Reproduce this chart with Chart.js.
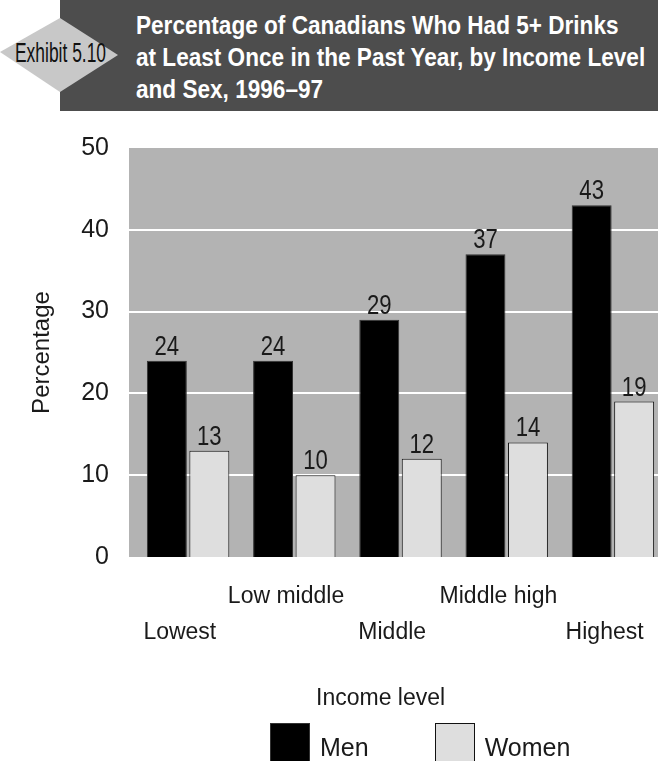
<!DOCTYPE html>
<html>
<head>
<meta charset="utf-8">
<title>Exhibit 5.10</title>
<script src="https://cdn.jsdelivr.net/npm/chart.js@4.4.1/dist/chart.umd.min.js"></script>
<style>
  html, body { margin: 0; padding: 0; overflow: hidden; background: #fff; }
  #page { position: relative; width: 658px; height: 761px; overflow: hidden; font-family: "Liberation Sans", Arial, sans-serif; }
  #band { position: absolute; left: 60px; top: 0; width: 598px; height: 111px; background: #4d4d4d; }
  #diamond { position: absolute; left: 0; top: 0; }
  #exhibit { position: absolute; left: 15px; top: 40px; font-size: 27px; line-height: 27px; color: #111; white-space: nowrap; transform-origin: 0 0; }
  #title { position: absolute; left: 136px; top: 9px; font-weight: bold; font-size: 26px; line-height: 32px; color: #fff; white-space: nowrap; transform-origin: 0 0; }
  #chartBox { position: absolute; left: 0; top: 0; width: 668px; height: 761px; }
  #xTitle { position: absolute; left: 316px; top: 684px; font-size: 23px; line-height: 26px; color: #1a1a1a; white-space: nowrap; }
  #legend { position: absolute; left: 270px; top: 723px; display: flex; gap: 66px; }
  #legend .item { display: flex; align-items: flex-start; }
  #legend .box { width: 40px; height: 50px; box-sizing: border-box; margin-right: 10px; }
  #legend .txt { font-size: 25px; line-height: 25px; margin-top: 12px; color: #1a1a1a; }
</style>
</head>
<body>
<div id="page">
  <div id="band"></div>
  <svg id="diamond" width="120" height="111"><polygon points="0,52 60,18 118,55 60,92" fill="#c8c8c8"/></svg>
  <div id="exhibit">Exhibit 5.10</div>
  <div id="title">Percentage of Canadians Who Had 5+ Drinks<br>at Least Once in the Past Year, by Income Level<br>and Sex, 1996–97</div>
  <div id="chartBox"><canvas id="drinksChart"></canvas></div>
  <div id="xTitle">Income level</div>
  <div id="legend"></div>
</div>
<script>
// income groups and the share of each sex with 5+ drinks on one occasion
const incomeLevels = ['Lowest', 'Low middle', 'Middle', 'Middle high', 'Highest'];
const labelRow = [1, 0, 1, 0, 1];   // staggered: 0 = upper line, 1 = lower line
const menPct = [24, 24, 29, 37, 43];
const womenPct = [13, 10, 12, 14, 19];
const yMax = 50;
const yStep = 10;

// squeeze a heading horizontally so it fits the given width (narrow type look)
function squeeze(el, width) {
  el.style.transform = 'scaleX(' + (width / el.offsetWidth) + ')';
}
squeeze(document.getElementById('title'), 509);
squeeze(document.getElementById('exhibit'), 91);

// grey panel and white rules, painted a little wider than the bar area
const panelBg = {
  id: 'panelBg',
  beforeDraw(chart) {
    const {ctx, chartArea, scales} = chart;
    const left = chartArea.left - 6;
    ctx.save();
    ctx.fillStyle = '#b3b3b3';
    ctx.fillRect(left, chartArea.top, chart.width - left, chartArea.bottom - chartArea.top);
    ctx.strokeStyle = '#ffffff';
    ctx.lineWidth = 2;
    scales.y.ticks.forEach(t => {
      if (t.value <= 0 || t.value >= yMax) return;
      const y = Math.round(scales.y.getPixelForValue(t.value));
      ctx.beginPath();
      ctx.moveTo(left, y);
      ctx.lineTo(chart.width, y);
      ctx.stroke();
    });
    ctx.restore();
  }
};

// value printed above each bar, in a condensed face
const barValues = {
  id: 'barValues',
  afterDatasetsDraw(chart) {
    const {ctx} = chart;
    ctx.save();
    ctx.font = '27px "Liberation Sans", Arial, sans-serif';
    ctx.fillStyle = '#1a1a1a';
    ctx.textAlign = 'center';
    ctx.textBaseline = 'alphabetic';
    chart.data.datasets.forEach((ds, i) => {
      chart.getDatasetMeta(i).data.forEach((bar, j) => {
        ctx.save();
        ctx.translate(bar.x, bar.y - 6);
        ctx.scale(0.82, 1);
        ctx.fillText(ds.data[j], 0, 0);
        ctx.restore();
      });
    });
    ctx.restore();
  }
};

const chart = new Chart(document.getElementById('drinksChart'), {
  type: 'bar',
  data: {
    labels: incomeLevels,
    datasets: [
      {
        label: 'Men',
        data: menPct,
        backgroundColor: '#000000',
        borderColor: '#333333',
        borderWidth: 1,
        barPercentage: 0.94,
        categoryPercentage: 0.8
      },
      {
        label: 'Women',
        data: womenPct,
        backgroundColor: '#dedede',
        borderColor: '#111111',
        borderWidth: 1,
        barPercentage: 0.94,
        categoryPercentage: 0.8
      }
    ]
  },
  options: {
    responsive: true,
    maintainAspectRatio: false,
    animation: false,
    layout: { padding: { top: 148, right: 2, bottom: 112, left: 0 } },
    plugins: {
      legend: { display: false },
      tooltip: { enabled: false }
    },
    scales: {
      x: { display: false },
      // label axis, sits slightly left of the bar groups
      x2: {
        type: 'linear',
        position: 'bottom',
        offset: false,
        min: -0.422,
        max: 4.578,
        grid: { display: false, drawTicks: false },
        border: { display: false },
        afterBuildTicks: s => { s.ticks = incomeLevels.map((_, i) => ({value: i})); },
        afterFit: s => { s.height = 92; },
        ticks: {
          autoSkip: false,
          maxRotation: 0,
          padding: 22,
          color: '#1a1a1a',
          font: { family: '"Liberation Sans", Arial, sans-serif', size: 23, lineHeight: 1.565 },
          callback: v => labelRow[v] ? ['', incomeLevels[v]] : [incomeLevels[v], '']
        }
      },
      y: {
        min: 0,
        max: yMax,
        grid: { display: false },
        border: { display: false },
        afterFit: s => { s.width = 135; },
        ticks: {
          stepSize: yStep,
          padding: 18,
          color: '#1a1a1a',
          font: { family: '"Liberation Sans", Arial, sans-serif', size: 25 }
        },
        title: {
          display: true,
          text: 'Percentage',
          color: '#1a1a1a',
          font: { family: '"Liberation Sans", Arial, sans-serif', size: 24 },
          padding: { top: 28, bottom: 33 }
        }
      }
    }
  },
  plugins: [panelBg, barValues]
});

// legend built from the datasets
const legendEl = document.getElementById('legend');
chart.data.datasets.forEach(ds => {
  const item = document.createElement('div');
  item.className = 'item';
  const box = document.createElement('div');
  box.className = 'box';
  box.style.background = ds.backgroundColor;
  box.style.border = '1px solid ' + ds.borderColor;
  const txt = document.createElement('div');
  txt.className = 'txt';
  txt.textContent = ds.label;
  item.appendChild(box);
  item.appendChild(txt);
  legendEl.appendChild(item);
});
</script>
</body>
</html>
